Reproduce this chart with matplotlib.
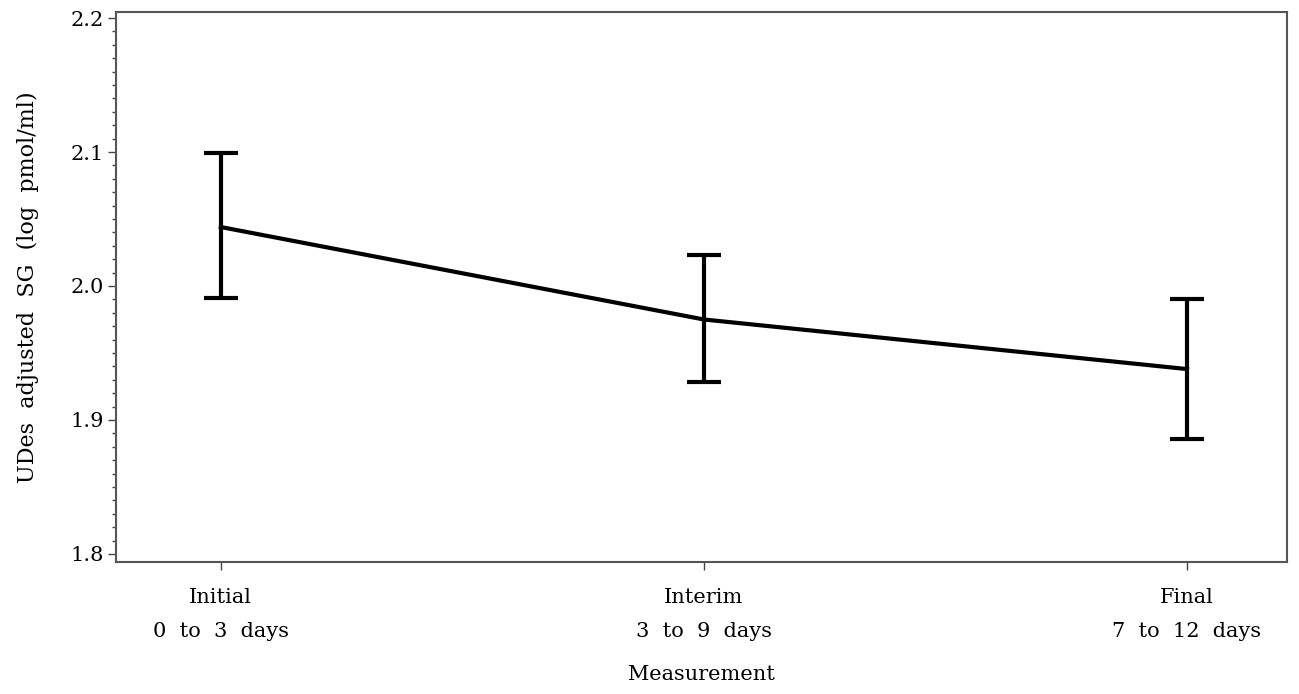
import matplotlib.pyplot as plt
from matplotlib.ticker import MultipleLocator

# values
labels = ['Initial\n0  to  3  days', 'Interim\n3  to  9  days', 'Final\n7  to  12  days']
means = [2.044, 1.975, 1.938]
lower = [1.991, 1.928, 1.886]
upper = [2.099, 2.023, 1.990]

plt.rcParams['font.family'] = ['DejaVu Serif']

fig = plt.figure(figsize=(12.99, 6.94), dpi=100)
ax = fig.add_axes([116 / 1299, 1 - 562 / 694, (1287 - 116) / 1299, (562 - 12) / 694])

x = list(range(len(means)))
err = [[m - l for m, l in zip(means, lower)], [u - m for m, u in zip(means, upper)]]
ax.errorbar(x, means, yerr=err, color='black', lw=3.0, capsize=12, capthick=3.0, elinewidth=3.0)

ax.set_xlim(-0.217, 2.207)
ax.set_ylim(1.794, 2.2045)
ax.set_yticks([1.8, 1.9, 2.0, 2.1, 2.2])
ax.set_yticklabels(['1.8', '1.9', '2.0', '2.1', '2.2'])
ax.yaxis.set_minor_locator(MultipleLocator(0.01))
ax.set_xticks(x)
ax.set_xticklabels(labels, linespacing=2.0)

ax.tick_params(axis='both', which='major', labelsize=15, length=6, width=1, color='#444444')
ax.tick_params(axis='y', which='minor', length=3, width=1, color='#444444')
ax.tick_params(axis='x', pad=13)
ax.tick_params(axis='y', pad=3)
for s in ax.spines.values():
    s.set_linewidth(1.5)
    s.set_color('#555555')

ax.set_ylabel('UDes  adjusted  SG  (log  pmol/ml)', fontsize=16, labelpad=22)
ax.set_xlabel('Measurement', fontsize=15, labelpad=17)

fig.savefig('out.png', dpi=100)
